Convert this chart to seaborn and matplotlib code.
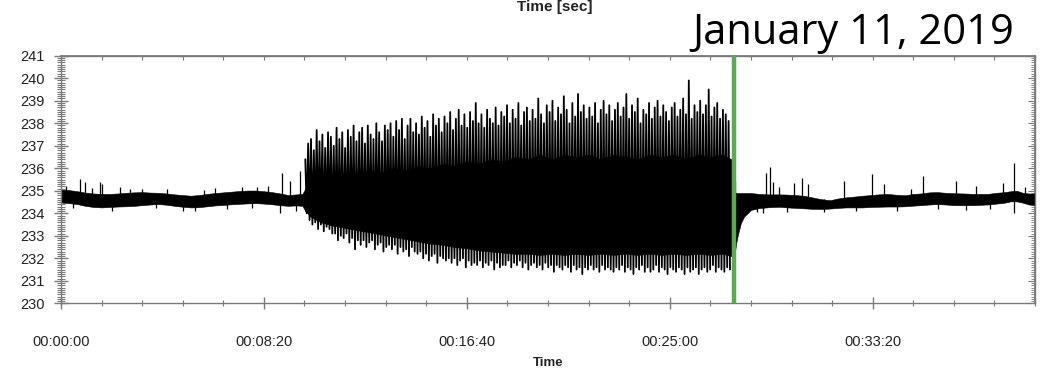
import numpy as np
import pandas as pd
import seaborn as sns
import matplotlib.pyplot as plt
from matplotlib.ticker import MultipleLocator, FuncFormatter, NullFormatter

sns.set_theme(style="white")
plt.rcParams['font.family'] = ['Liberation Sans', 'DejaVu Sans']

# quiet part before the oscillation: time [s], upper and lower edge of the noise band [V]
pre_t = [0, 20, 40, 60, 80, 100, 120, 140, 160, 180, 200, 220, 240, 260, 280, 300,
         320, 340, 360, 380, 400, 420, 440, 460, 480, 500, 520, 540, 560, 580, 595, 602]
pre_hi = [235.05, 235.03, 234.98, 234.92, 234.88, 234.86, 234.86, 234.88, 234.91, 234.93,
          234.94, 234.92, 234.91, 234.88, 234.84, 234.81, 234.78, 234.81, 234.86, 234.90,
          234.93, 234.96, 234.99, 235.01, 235.01, 234.98, 234.94, 234.88, 234.81, 234.84,
          234.86, 235.1]
pre_lo = [234.48, 234.45, 234.41, 234.33, 234.28, 234.26, 234.28, 234.30, 234.31, 234.33,
          234.36, 234.39, 234.41, 234.38, 234.33, 234.29, 234.26, 234.27, 234.31, 234.35,
          234.37, 234.40, 234.42, 234.44, 234.45, 234.43, 234.40, 234.36, 234.33, 234.35,
          234.33, 234.1]

# solid core of the oscillating part
core_t = [602, 615, 640, 670, 700, 730, 760, 790, 820, 850, 880, 910, 940, 970, 1000,
          1030, 1060, 1090, 1120, 1150, 1180, 1210, 1240, 1270, 1300, 1330, 1360, 1390,
          1420, 1450, 1480, 1510, 1540, 1570, 1600, 1630, 1652]
core_hi = [235.1, 235.6, 235.7, 235.6, 235.8, 235.7, 235.9, 235.8, 236.0, 235.9, 236.1,
           236.0, 236.2, 236.1, 236.3, 236.2, 236.4, 236.3, 236.5, 236.4, 236.6, 236.4,
           236.6, 236.5, 236.6, 236.4, 236.6, 236.5, 236.4, 236.6, 236.5, 236.6, 236.4,
           236.6, 236.5, 236.6, 236.4]
core_lo = [234.1, 233.85, 233.6, 233.45, 233.35, 233.25, 233.15, 233.05, 232.95, 232.85,
           232.75, 232.65, 232.6, 232.5, 232.45, 232.35, 232.3, 232.25, 232.2, 232.2,
           232.15, 232.2, 232.15, 232.2, 232.15, 232.2, 232.15, 232.2, 232.15, 232.2,
           232.15, 232.2, 232.15, 232.2, 232.15, 232.2, 232.1]

# recovery after the trip and quiet part afterwards
post_t = [1656, 1660, 1664, 1668, 1675, 1683, 1692, 1700, 1720, 1745, 1770, 1790, 1810,
          1830, 1850, 1872, 1895, 1915, 1935, 1954, 1975, 1995, 2015, 2036, 2060,
          2080, 2100, 2119, 2140, 2160, 2180, 2201, 2225, 2250, 2270, 2283, 2305,
          2325, 2340, 2355, 2370, 2385, 2400]
post_hi = [235.5, 234.95, 234.9, 234.9, 234.9, 234.9, 234.9, 234.9, 234.86, 234.84, 234.84,
           234.83, 234.81, 234.78, 234.71, 234.63, 234.58, 234.66, 234.71, 234.74, 234.78,
           234.81, 234.84, 234.86, 234.82, 234.80, 234.86, 234.88, 234.93, 234.94, 234.91,
           234.89, 234.88, 234.86, 234.86, 234.86, 234.91, 234.94, 234.98, 235.00, 234.91,
           234.88, 234.88]
post_lo = [232.1, 232.2, 232.7, 233.05, 233.55, 233.85, 234.0, 234.15, 234.23, 234.27, 234.29,
           234.26, 234.24, 234.22, 234.20, 234.19, 234.21, 234.24, 234.26, 234.26, 234.26,
           234.28, 234.29, 234.30, 234.30, 234.31, 234.34, 234.36, 234.39, 234.41, 234.39,
           234.36, 234.36, 234.36, 234.38, 234.39, 234.43, 234.47, 234.53, 234.53, 234.47,
           234.39, 234.36]

# oscillation peaks, one upper peak every 7 s from 602 s, lower peak half a step later
osc_start = 602
osc_step = 7
osc_hi = [236.4, 237.1, 237.3, 236.8, 237.7, 237.2, 237.5, 236.9, 237.6, 237.4,
          237.0, 237.8, 237.3, 237.6, 236.9, 237.7, 237.4, 237.9, 237.2, 237.6,
          237.8, 237.1, 237.9, 237.5, 237.3, 238.0, 237.6, 237.2, 237.9, 237.7,
          238.0, 237.4, 238.1, 237.7, 238.2, 237.3, 237.9, 238.2, 237.6, 238.0,
          237.5, 238.3, 237.8, 238.1, 237.4, 238.4, 237.9, 238.2, 237.6, 238.3,
          238.0, 238.5, 237.7, 238.2, 238.6, 237.9, 238.4, 237.8, 238.5, 238.1,
          238.9, 238.0, 238.4, 237.8, 238.6, 238.2, 238.0, 238.7, 237.9, 238.5,
          238.3, 238.8, 238.0, 238.6, 238.2, 238.9, 237.9, 238.5, 238.7, 238.1,
          238.6, 238.2, 239.1, 238.4, 238.0, 238.8, 238.5, 239.0, 238.1, 238.7,
          238.4, 239.2, 238.6, 238.0, 238.9, 238.3, 239.3, 238.5, 238.8, 238.2,
          238.7, 238.3, 238.9, 238.0, 238.6, 239.0, 238.4, 238.8, 238.1, 238.6,
          238.9, 238.3, 238.7, 239.3, 238.2, 238.8, 238.5, 239.1, 238.0, 238.6,
          238.4, 238.9, 238.2, 238.7, 239.0, 238.3, 238.8, 238.5, 238.1, 238.7,
          238.9, 238.3, 238.6, 239.1, 238.4, 239.9, 238.2, 238.8, 238.5, 239.0,
          238.4, 238.8, 239.5, 238.3, 238.7, 238.9, 238.2, 238.6, 238.4, 238.1]
osc_lo = [234.0, 233.7, 233.5, 233.6, 233.3, 233.5, 233.2, 233.4, 233.3, 233.1,
          233.1, 232.8, 233.0, 232.9, 233.1, 232.7, 232.9, 232.4, 232.8, 232.6,
          232.8, 232.5, 232.7, 232.8, 232.4, 232.6, 232.7, 232.3, 232.5, 232.6,
          232.4, 232.6, 232.2, 232.5, 232.3, 232.4, 232.1, 232.5, 232.3, 232.2,
          232.3, 232.0, 232.2, 231.9, 232.1, 232.2, 231.8, 232.1, 232.0, 231.9,
          232.0, 231.8, 232.0, 231.7, 231.9, 232.0, 231.6, 231.9, 231.7, 231.8,
          231.7, 231.9, 231.6, 231.8, 231.7, 231.9, 231.5, 231.8, 231.6, 231.7,
          231.7, 231.9, 231.6, 231.8, 231.7, 231.9, 231.6, 231.8, 231.5, 231.7,
          231.8, 231.6, 231.7, 231.5, 231.8, 231.6, 231.7, 231.4, 231.7, 231.6,
          231.5, 231.7, 231.6, 231.4, 231.7, 231.5, 231.6, 231.3, 231.6, 231.5,
          231.7, 231.5, 231.6, 231.4, 231.7, 231.5, 231.6, 231.5, 231.4, 231.6,
          231.5, 231.7, 231.4, 231.6, 231.5, 231.3, 231.6, 231.5, 231.7, 231.4,
          231.6, 231.4, 231.5, 231.7, 231.4, 231.6, 231.5, 231.3, 231.6, 231.5,
          231.4, 231.6, 231.5, 231.3, 231.6, 231.4, 231.5, 231.6, 231.3, 231.5,
          231.6, 231.4, 231.5, 231.7, 231.4, 231.6, 231.5, 231.4, 231.6, 231.5]

# isolated spikes and small flicker on the quiet parts of the trace
spike_t = [12, 30, 47, 59, 77, 97, 102, 125, 146, 170, 200, 235, 262, 300, 330, 352, 380,
           410, 445, 470, 483, 510, 540, 545, 565, 580, 590,
           1662, 1715, 1730, 1737, 1747, 1755, 1770, 1790, 1806, 1826, 1840, 1880, 1929,
           1960, 1998, 2028, 2060, 2095, 2124, 2160, 2205, 2230, 2255, 2290, 2321, 2349,
           2349, 2375]
spike_v = [235.22, 234.25, 235.52, 235.40, 235.12, 235.37, 235.30, 234.12, 235.15, 235.08,
           235.10, 234.22, 235.08, 234.12, 234.10, 235.05, 235.12, 234.20, 235.15, 234.25,
           235.18, 235.20, 234.02, 235.80, 235.45, 234.10, 235.90,
           235.45, 234.05, 234.00, 235.80, 236.05, 235.40, 235.15, 234.05, 235.35, 235.57,
           235.30, 234.05, 235.45, 234.10, 235.76, 235.30, 234.12, 235.10, 235.64, 234.18,
           235.45, 234.15, 235.20, 234.20, 235.35, 236.24, 234.00, 235.15]

trip_time = 1658

t_hi = osc_start + osc_step * np.arange(len(osc_hi))
t_lo = t_hi + osc_step / 2
zig = pd.DataFrame({'Time': np.column_stack([t_hi, t_lo]).ravel(),
                    'Voltage': np.column_stack([osc_hi, osc_lo]).ravel()})

fig = plt.figure(figsize=(10.48, 3.69), dpi=100)
ax = fig.add_axes([0.0582, 0.178, 0.9294, 0.671])

ax.vlines(spike_t, 234.65, spike_v, color='black', lw=0.9)
sns.lineplot(data=zig, x='Time', y='Voltage', color='black', lw=1.3,
             estimator=None, sort=False, ax=ax)
ax.fill_between(pre_t, pre_lo, pre_hi, color='black', lw=0.4)
ax.fill_between(core_t, core_lo, core_hi, color='black', lw=0.4)
ax.fill_between(post_t, post_lo, post_hi, color='black', lw=0.4)
ax.axvline(trip_time, color='#5fa85a', lw=3.2, zorder=5)

ax.set_xlim(0, 2400)
ax.set_ylim(230, 241)

def hms(x, pos):
    s = int(round(x))
    return f"{s // 3600:02d}:{s % 3600 // 60:02d}:{s % 60:02d}"

ax.xaxis.set_major_locator(MultipleLocator(500))
ax.xaxis.set_minor_locator(MultipleLocator(100))
ax.xaxis.set_major_formatter(FuncFormatter(hms))
ax.yaxis.set_major_locator(MultipleLocator(1))
ax.yaxis.set_minor_locator(MultipleLocator(0.1))

tc = '#7a7a7a'
ax.tick_params(axis='x', which='major', direction='inout', length=8, width=1, color=tc,
               pad=19, labelsize=10.5, labelcolor='#222222', bottom=True)
ax.tick_params(axis='x', which='minor', direction='inout', length=5, width=0.8, color=tc,
               bottom=True)
ax.tick_params(axis='y', which='major', direction='inout', length=10, width=1, color=tc,
               pad=6.5, labelsize=10.5, labelcolor='#222222', left=True)
ax.tick_params(axis='y', which='minor', direction='inout', length=6, width=0.8, color=tc,
               left=True)
for sp in ax.spines.values():
    sp.set_color(tc)
    sp.set_linewidth(1.0)

top = ax.secondary_xaxis('top')
top.xaxis.set_major_locator(MultipleLocator(500))
top.xaxis.set_minor_locator(MultipleLocator(100))
top.xaxis.set_major_formatter(NullFormatter())
top.tick_params(which='both', direction='in', length=3, width=0.8, color=tc)
top.spines['top'].set_color(tc)

right = ax.secondary_yaxis('right')
right.yaxis.set_major_locator(MultipleLocator(1))
right.yaxis.set_minor_locator(MultipleLocator(0.1))
right.yaxis.set_major_formatter(NullFormatter())
right.tick_params(which='major', direction='in', length=5, width=0.8, color=tc)
right.tick_params(which='minor', direction='in', length=3, width=0.6, color=tc)
right.spines['right'].set_color(tc)

ax.set_xlabel('Time', fontweight='bold', fontsize=9.5, color='#222222')
ax.set_ylabel('')
ax.xaxis.set_label_coords(0.5, -0.241)
ax.xaxis.label.set_va('center')

fig.text(555 / 1048, 1 - 11 / 369, 'Time [sec]', ha='center', va='baseline',
         fontsize=11, fontweight='bold', color='#222222')
fig.text(853 / 1048, 1 - 44 / 369, 'January 11, 2019', ha='center', va='baseline',
         fontsize=30, family=['Open Sans', 'DejaVu Sans'], color='black')

fig.savefig('out.png', dpi=100)
